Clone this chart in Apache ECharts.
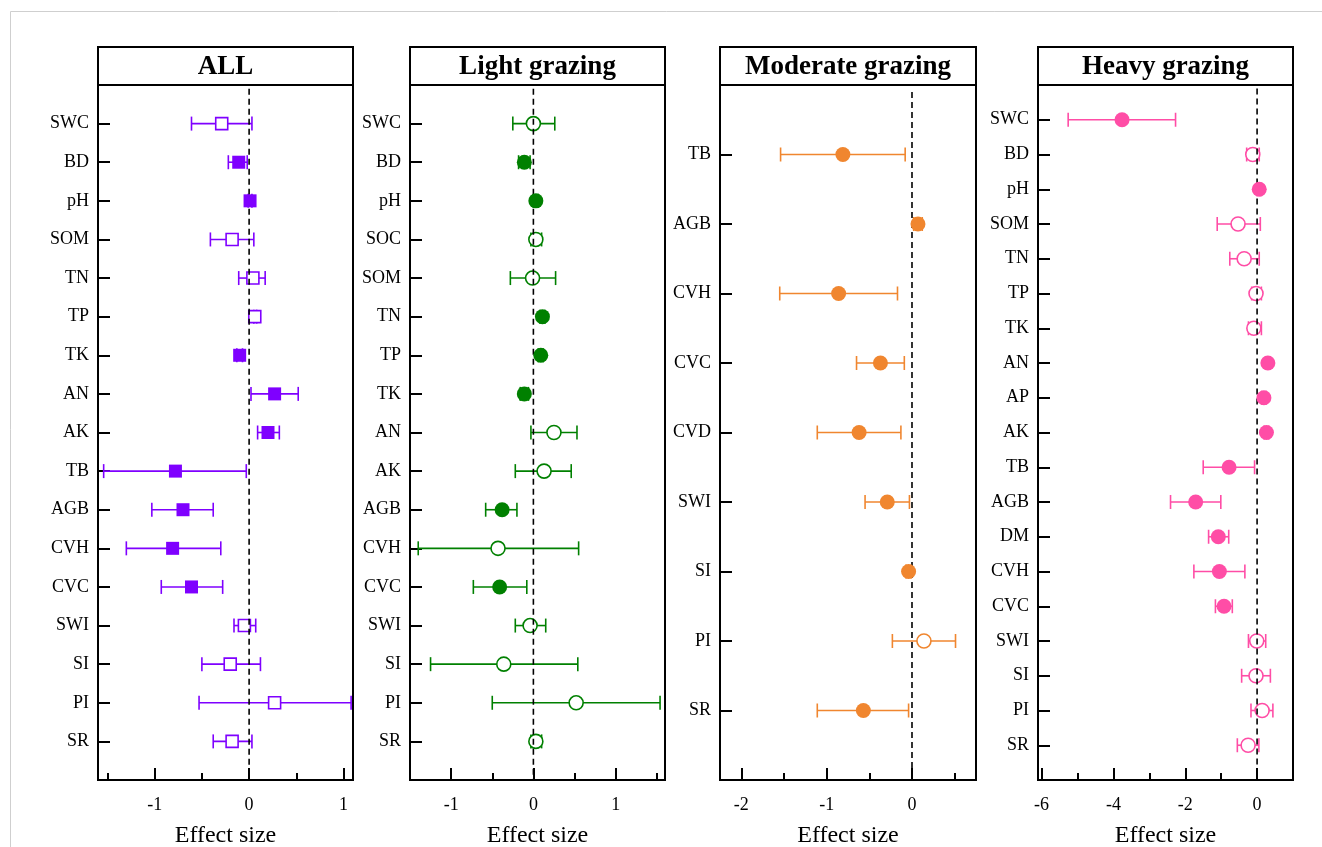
<!DOCTYPE html>
<html>
<head>
<meta charset="utf-8">
<script src="https://cdn.jsdelivr.net/npm/echarts@6/dist/echarts.min.js"></script>
<style>
  html, body { margin: 0; padding: 0; background: #fff; }
  #chart { width: 1322px; height: 847px; }
</style>
</head>
<body>
<div id="chart"></div>
<script>
// ---- data ----
const allCats = ['SWC', 'BD', 'pH', 'SOM', 'TN', 'TP', 'TK', 'AN', 'AK', 'TB', 'AGB', 'CVH', 'CVC', 'SWI', 'SI', 'PI', 'SR'];
const allMean = [-0.29, -0.11, 0.01, -0.18, 0.04, 0.06, -0.10, 0.27, 0.20, -0.78, -0.70, -0.81, -0.61, -0.05, -0.20, 0.27, -0.18];
const allLow = [-0.61, -0.22, -0.01, -0.41, -0.11, 0.05, -0.13, 0.02, 0.09, -1.54, -1.03, -1.30, -0.93, -0.16, -0.50, -0.53, -0.38];
const allHigh = [0.03, -0.02, 0.03, 0.05, 0.17, 0.08, -0.07, 0.52, 0.32, -0.03, -0.38, -0.30, -0.28, 0.07, 0.12, 1.08, 0.03];
const allSig = [0, 1, 1, 0, 0, 0, 1, 1, 1, 1, 1, 1, 1, 0, 0, 0, 0];

const lightCats = ['SWC', 'BD', 'pH', 'SOC', 'SOM', 'TN', 'TP', 'TK', 'AN', 'AK', 'AGB', 'CVH', 'CVC', 'SWI', 'SI', 'PI', 'SR'];
const lightMean = [0.00, -0.11, 0.03, 0.03, -0.01, 0.11, 0.09, -0.11, 0.25, 0.13, -0.38, -0.43, -0.41, -0.04, -0.36, 0.52, 0.03];
const lightLow = [-0.25, -0.18, 0.00, -0.03, -0.28, 0.08, 0.06, -0.16, -0.03, -0.22, -0.58, -1.40, -0.73, -0.22, -1.25, -0.50, -0.03];
const lightHigh = [0.26, -0.04, 0.06, 0.10, 0.27, 0.14, 0.12, -0.06, 0.53, 0.46, -0.20, 0.55, -0.08, 0.15, 0.54, 1.54, 0.10];
const lightSig = [0, 1, 1, 0, 0, 1, 1, 1, 0, 0, 1, 0, 1, 0, 0, 0, 0];

const modCats = ['TB', 'AGB', 'CVH', 'CVC', 'CVD', 'SWI', 'SI', 'PI', 'SR'];
const modMean = [-0.81, 0.07, -0.86, -0.37, -0.62, -0.29, -0.04, 0.14, -0.57];
const modLow = [-1.54, 0.02, -1.55, -0.65, -1.11, -0.55, -0.07, -0.23, -1.11];
const modHigh = [-0.08, 0.12, -0.17, -0.09, -0.13, -0.03, -0.01, 0.51, -0.04];
const modSig = [1, 1, 1, 1, 1, 1, 1, 0, 1];

const heavyCats = ['SWC', 'BD', 'pH', 'SOM', 'TN', 'TP', 'TK', 'AN', 'AP', 'AK', 'TB', 'AGB', 'DM', 'CVH', 'CVC', 'SWI', 'SI', 'PI', 'SR'];
const heavyMean = [-3.76, -0.12, 0.06, -0.53, -0.36, -0.03, -0.09, 0.30, 0.19, 0.26, -0.78, -1.71, -1.08, -1.05, -0.92, -0.01, -0.03, 0.14, -0.25];
const heavyLow = [-5.26, -0.29, 0.00, -1.11, -0.76, -0.15, -0.24, 0.24, 0.13, 0.20, -1.50, -2.41, -1.35, -1.76, -1.16, -0.24, -0.43, -0.17, -0.55];
const heavyHigh = [-2.27, 0.06, 0.10, 0.09, 0.06, 0.12, 0.12, 0.36, 0.25, 0.32, -0.07, -1.01, -0.79, -0.34, -0.69, 0.24, 0.37, 0.44, 0.05];
const heavySig = [1, 0, 1, 0, 0, 0, 0, 1, 1, 1, 1, 1, 1, 1, 1, 0, 0, 0, 0];

// x ticks per panel
const allTicks = [-1, 0, 1], allMinor = [-1.5, -0.5, 0.5];
const lightTicks = [-1, 0, 1], lightMinor = [-0.5, 0.5, 1.5];
const modTicks = [-2, -1, 0], modMinor = [-1.5, -0.5, 0.5];
const heavyTicks = [-6, -4, -2, 0], heavyMinor = [-5, -3, -1];

const FONT = 'Liberation Serif';

const panels = [
  {title: 'ALL', cats: allCats, mean: allMean, low: allLow, high: allHigh, sig: allSig,
   ticks: allTicks, minor: allMinor, min: -1.6, max: 1.1, color: '#7f00ff', symbol: 'rect', size: 13,
   left: 98, width: 255},
  {title: 'Light grazing', cats: lightCats, mean: lightMean, low: lightLow, high: lightHigh, sig: lightSig,
   ticks: lightTicks, minor: lightMinor, min: -1.5, max: 1.6, color: '#008000', symbol: 'circle', size: 15,
   left: 410, width: 255},
  {title: 'Moderate grazing', cats: modCats, mean: modMean, low: modLow, high: modHigh, sig: modSig,
   ticks: modTicks, minor: modMinor, min: -2.25, max: 0.75, color: '#f0862f', symbol: 'circle', size: 15,
   left: 720, width: 256},
  {title: 'Heavy grazing', cats: heavyCats, mean: heavyMean, low: heavyLow, high: heavyHigh, sig: heavySig,
   ticks: heavyTicks, minor: heavyMinor, min: -6.1, max: 1.0, color: '#ff4da6', symbol: 'circle', size: 15,
   left: 1038, width: 255}
];

const TOP = 85, BOTTOM = 780, TITLE_H = 38;

const grid = [], xAxis = [], yAxis = [], series = [], graphic = [];

graphic.push({
  type: 'rect', z: 0, silent: true,
  shape: {x: 10.5, y: 11.5, width: 1400, height: 900},
  style: {fill: 'none', stroke: '#cfcfcf', lineWidth: 1}
});

panels.forEach((p, i) => {
  const n = p.cats.length;
  grid.push({
    left: p.left, top: TOP, width: p.width, height: BOTTOM - TOP,
    outerBoundsMode: 'none', containLabel: false,
    show: true, borderColor: '#000', borderWidth: 2, backgroundColor: 'transparent'
  });
  xAxis.push({
    gridIndex: i, type: 'value', min: p.min, max: p.max, position: 'bottom',
    name: 'Effect size', nameLocation: 'middle', nameGap: 44,
    nameTextStyle: {fontFamily: FONT, fontSize: 24, color: '#000'},
    axisLine: {show: true, onZero: false, lineStyle: {color: '#000', width: 2}},
    axisTick: {show: true, inside: true, length: 12, customValues: p.ticks, lineStyle: {color: '#000', width: 2}},
    axisLabel: {show: true, customValues: p.ticks, margin: 16, fontFamily: FONT, fontSize: 18, color: '#000'},
    splitLine: {show: false}
  });
  xAxis.push({
    gridIndex: i, type: 'value', min: p.min, max: p.max, position: 'bottom',
    axisLine: {show: false, onZero: false},
    axisTick: {show: true, inside: true, length: 7, customValues: p.minor, lineStyle: {color: '#000', width: 2}},
    axisLabel: {show: false},
    splitLine: {show: false}
  });
  const yVals = p.cats.map((c, k) => k + 1);
  yAxis.push({
    gridIndex: i, type: 'value', inverse: true, min: 0, max: n + 1, position: 'left',
    axisLine: {show: true, onZero: false, lineStyle: {color: '#000', width: 2}},
    axisTick: {show: true, inside: true, length: 12, customValues: yVals, lineStyle: {color: '#000', width: 2}},
    axisLabel: {show: true, customValues: yVals, margin: 9, fontFamily: FONT, fontSize: 18, color: '#000',
      formatter: v => p.cats[Math.round(v) - 1] || ''},
    splitLine: {show: false}
  });

  const xi = i * 2;
  // error bars
  series.push({
    type: 'custom', xAxisIndex: xi, yAxisIndex: i, z: 2, silent: true,
    data: p.cats.map((c, k) => [p.low[k], p.high[k], k + 1]),
    encode: {x: [0, 1], y: 2},
    renderItem: (params, api) => {
      const a = api.coord([api.value(0), api.value(2)]);
      const b = api.coord([api.value(1), api.value(2)]);
      const h = 7;
      const st = {stroke: p.color, lineWidth: 1.6, fill: 'none'};
      return {
        type: 'group',
        children: [
          {type: 'line', shape: {x1: a[0], y1: a[1], x2: b[0], y2: b[1]}, style: st},
          {type: 'line', shape: {x1: a[0], y1: a[1] - h, x2: a[0], y2: a[1] + h}, style: st},
          {type: 'line', shape: {x1: b[0], y1: b[1] - h, x2: b[0], y2: b[1] + h}, style: st}
        ]
      };
    }
  });
  // non-significant (hollow)
  series.push({
    type: 'scatter', xAxisIndex: xi, yAxisIndex: i, z: 3, silent: true,
    symbol: p.symbol, symbolSize: p.size - 1,
    itemStyle: {color: '#fff', borderColor: p.color, borderWidth: 1.6, opacity: 1},
    data: p.cats.map((c, k) => [p.mean[k], k + 1]).filter((d, k) => !p.sig[k])
  });
  // zero line
  series.push({
    type: 'line', xAxisIndex: xi, yAxisIndex: i, z: 4, silent: true,
    symbol: 'none',
    lineStyle: {color: '#000', width: 1.6, type: [6, 4]},
    data: [[0, 0.1], [0, n + 1]]
  });
  // significant (filled)
  series.push({
    type: 'scatter', xAxisIndex: xi, yAxisIndex: i, z: 5, silent: true,
    symbol: p.symbol, symbolSize: p.size,
    itemStyle: {color: p.color, opacity: 1},
    data: p.cats.map((c, k) => [p.mean[k], k + 1]).filter((d, k) => p.sig[k])
  });

  // title box
  graphic.push({
    type: 'rect', z: 10, silent: true,
    shape: {x: p.left, y: TOP - TITLE_H, width: p.width, height: TITLE_H},
    style: {fill: '#fff', stroke: '#000', lineWidth: 2}
  });
  graphic.push({
    type: 'text', z: 11, silent: true,
    x: p.left + p.width / 2, y: TOP - TITLE_H / 2 + 1,
    style: {text: p.title, fontFamily: FONT, fontSize: 27, fontWeight: 'bold', fill: '#000',
      align: 'center', verticalAlign: 'middle'}
  });
});

const chart = echarts.init(document.getElementById('chart'));
chart.setOption({
  backgroundColor: '#fff',
  animation: false,
  textStyle: {fontFamily: FONT},
  grid, xAxis, yAxis, series, graphic
});
</script>
</body>
</html>
